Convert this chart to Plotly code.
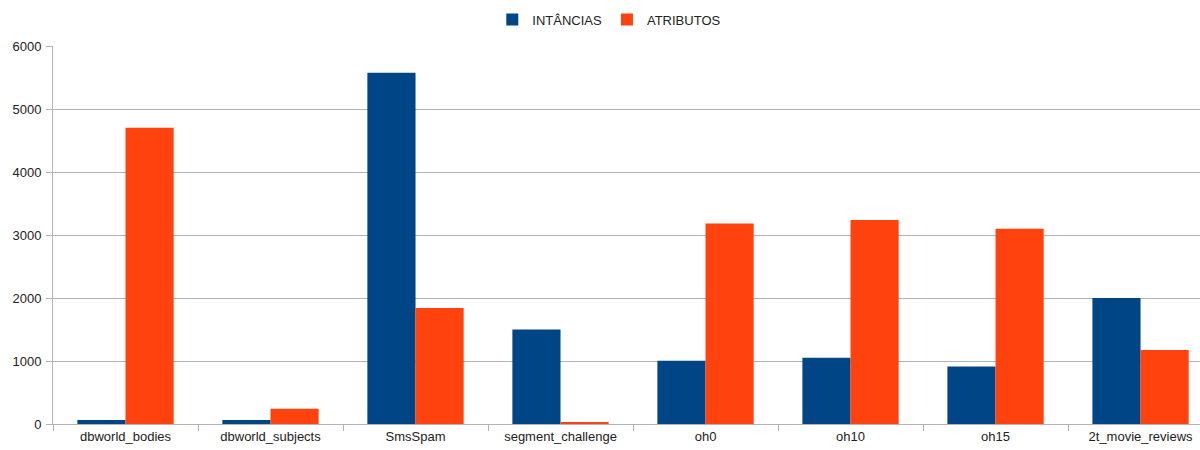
import plotly.graph_objects as go

categories = ["dbworld_bodies", "dbworld_subjects", "SmsSpam", "segment_challenge",
              "oh0", "oh10", "oh15", "2t_movie_reviews"]
instancias = [64, 64, 5574, 1500, 1003, 1050, 913, 2000]
atributos = [4702, 242, 1840, 20, 3182, 3238, 3100, 1174]

fig = go.Figure()
fig.add_trace(go.Bar(name="INTÂNCIAS", x=categories, y=instancias,
                     marker=dict(color="#004586", line=dict(width=0))))
fig.add_trace(go.Bar(name="ATRIBUTOS", x=categories, y=atributos,
                     marker=dict(color="#ff420e", line=dict(width=0))))

fig.update_layout(
    width=1200, height=450,
    margin=dict(l=53, r=0, t=46, b=26),
    paper_bgcolor="white", plot_bgcolor="white",
    barmode="group", bargap=0.336, bargroupgap=0,
    font=dict(family="Liberation Sans", size=13, color="#222222"),
    showlegend=True,
    legend=dict(orientation="h", x=0.485, xanchor="center", y=1.03, yanchor="bottom",
                font=dict(size=13), itemwidth=30, traceorder="normal"),
    xaxis=dict(type="category", range=[-0.5, 7.41], tickson="boundaries",
               ticks="outside", ticklen=6, tickcolor="#b3b3b3",
               showline=True, linecolor="#b3b3b3", linewidth=1,
               showgrid=False, tickfont=dict(size=13)),
    yaxis=dict(range=[0, 6000], dtick=1000, ticks="outside", ticklen=6,
               tickcolor="#b3b3b3", showline=True, linecolor="#b3b3b3",
               gridcolor="#b3b3b3", gridwidth=1, zeroline=False,
               tickfont=dict(size=13), ticklabelstandoff=2),
)
fig.write_html("out.html")
